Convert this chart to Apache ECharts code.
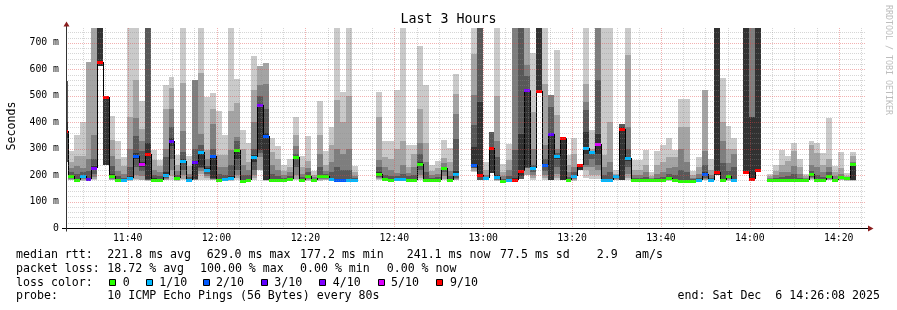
<!DOCTYPE html>
<html><head><meta charset="utf-8">
<script src="https://cdn.jsdelivr.net/npm/echarts@6/dist/echarts.min.js"></script>
<style>html,body{margin:0;padding:0;background:#fff}#c{width:897px;height:310px}</style>
</head><body><div id="c"></div>
<script>
const N = null;
// sorted ping rtts per 80s step (ms), ping1 = fastest ... ping10 = slowest
const ping10 = [557,290,353,400,626,758,758,498,423,328, 270,758,758,480,758,296,258,540,571,275, 758,271,558,758,495,511,443,350,758,565, 372,323,651,611,625,340,309,240,260,419, 271,347,215,479,290,382,758,513,758,233, N,N,N,513,328,328,520,758,315,315, 687,542,240,252,334,304,584,N,N,758, 758,250,361,758,241,317,758,758,758,663, 758,758,502,674,344,275,342,243,758,369, 758,758,758,219,395,758,258,258,294,210, 290,315,340,293,489,489,215,268,523,260, 758,567,387,340,N,758,758,758,N,206, 237,293,274,322,261,206,330,322,284,414, 236,287,208,287];
const ping9 = [557,250,274,272,626,758,758,498,334,262, 233,420,560,375,758,258,233,448,531,240, 548,235,558,586,294,450,275,275,443,473, 300,250,521,611,625,287,260,215,230,350, 230,255,200,350,240,315,485,400,500,210, N,N,N,420,270,260,300,330,230,281, 450,322,215,225,263,250,508,N,N,659, 758,220,361,498,210,256,758,758,758,439, 758,546,502,426,344,240,280,243,546,300, 758,275,400,205,395,653,220,220,240,195, 240,250,270,270,381,380,200,230,523,220, 758,400,300,300,N,758,758,758,N,195, 215,240,254,290,230,195,315,284,240,261, 210,225,198,274];
const ping8 = [557,228,235,228,260,350,758,498,271,215, 205,300,414,330,758,220,210,300,451,215, 366,205,558,357,260,395,230,230,294,344, 240,220,400,540,546,240,220,200,210,309, 205,225,192,280,215,250,300,280,300,195, N,N,N,258,230,220,208,240,208,230, 322,250,200,205,245,215,432,N,N,504, 758,200,361,329,195,220,758,758,615,300, 758,315,502,300,344,210,230,243,476,292, 758,230,250,198,395,382,200,200,210,188, 205,210,227,230,300,250,190,205,290,200, 758,328,246,280,N,758,758,758,N,188, 200,210,210,233,205,188,240,230,210,230, 195,205,192,250];
const ping7 = [557,212,205,212,215,262,758,498,233,195, 190,230,347,290,758,200,195,269,380,200, 287,192,300,313,235,300,205,200,240,330, 200,200,300,500,450,205,198,190,195,280, 192,210,187,230,205,210,230,220,220,188, N,N,N,230,200,195,195,205,195,200, 280,210,190,192,230,195,338,N,N,389, 758,192,361,269,185,195,294,758,574,240, 758,260,458,285,344,192,210,243,447,290, 561,200,210,196,395,300,188,188,192,185, 190,192,205,200,220,210,184,190,240,190, 758,246,215,230,N,758,419,758,N,184, 190,192,195,205,190,185,215,200,192,210, 187,198,190,246];
const ping6 = [400,200,187,200,190,235,758,498,205,186, 184,195,285,250,322,188,186,210,340,192, 262,186,252,292,225,275,185,188,195,298, 182,186,275,470,360,187,186,185,187,272, 186,200,185,202,200,190,185,185,185,184, N,N,N,210,190,186,189,190,186,186, 248,186,185,186,228,184,215,N,N,307, 477,192,304,200,180,184,190,357,525,230, 758,242,359,275,344,186,200,243,363,289, 357,185,185,196,380,270,184,184,184,184, 185,185,192,186,181,181,180,185,210,185, 758,187,200,187,N,758,419,758,N,182, 184,185,186,186,185,184,208,186,185,201, 184,195,189,246];
const ping5 = [340,194,181,192,183,222,612,240,194,181, 181,186,262,232,185,182,181,195,310,185, 245,182,187,231,215,190,180,183,186,260, 177,182,250,294,183,182,182,182,182,262, 182,192,182,192,195,184,180,180,180,181, N,N,N,200,184,182,184,184,182,182, 236,182,182,182,222,180,195,N,N,232, 198,188,208,188,177,180,180,195,231,222, 510,230,181,260,181,182,192,219,280,280, 280,180,179,195,181,255,180,180,180,182, 182,182,185,182,177,177,177,182,200,182, 200,182,192,182,N,205,183,218,N,180, 181,182,182,182,182,182,200,182,182,195, 182,190,186,183];
const ping4 = [250,190,180,188,181,205,612,240,190,180, 180,184,230,215,183,180,180,190,260,183, 220,180,185,225,205,186,179,182,184,220, 177,180,220,285,182,180,180,181,181,230, 180,188,181,188,190,182,179,179,179,180, N,N,N,194,182,180,182,182,180,180, 220,180,181,181,210,179,190,N,N,228, 181,185,208,185,177,179,180,185,228,210, 510,215,181,230,181,180,188,219,240,260, 240,179,178,190,181,230,179,179,179,181, 181,180,183,180,177,177,177,181,190,181, 200,181,188,181,N,205,183,218,N,179, 180,180,180,180,180,181,193,180,180,190, 181,187,184,182];
const ping3 = [250,186,179,184,180,192,612,240,186,179, 179,182,200,195,182,179,179,186,220,181, 200,179,183,215,195,184,178,181,182,200, 176,179,200,270,181,179,179,180,180,200, 179,185,180,185,186,181,178,178,178,179, N,N,N,188,181,179,181,181,179,179, 200,179,180,180,195,178,186,N,N,225, 181,183,208,183,176,178,180,185,225,200, 510,200,181,205,181,179,185,219,230,230, 220,178,178,186,181,205,178,178,178,180, 180,179,181,179,176,176,176,180,186,180, 200,180,185,180,N,205,183,218,N,178, 179,179,179,179,179,180,188,179,179,186, 180,184,182,181];
const ping2 = [250,183,178,181,179,185,612,240,183,178, 178,180,185,183,180,178,178,183,195,180, 186,178,181,205,188,182,178,180,180,188, 176,178,188,219,180,178,178,179,179,185, 178,182,179,182,183,180,178,178,178,178, N,N,N,184,180,178,180,180,178,178, 188,178,179,179,185,178,183,N,N,215, 181,181,208,181,176,178,180,185,200,190, 510,188,181,190,181,178,182,219,219,200, 200,178,177,183,181,190,178,178,178,179, 179,178,180,178,176,176,176,179,183,179, 200,179,182,179,N,205,183,218,N,178, 178,178,178,178,178,179,184,178,178,183, 179,182,180,180];
const ping1 = [250,180,177,179,178,180,612,240,180,177, 177,178,180,180,178,177,177,180,182,178, 180,177,180,182,182,180,177,178,178,181, 175,177,181,219,179,177,177,178,178,180, 177,179,178,179,180,178,177,177,177,177, N,N,N,180,178,177,178,178,177,177, 181,177,178,178,180,177,180,N,N,212, 181,180,208,179,175,177,180,185,200,183, 510,181,181,181,181,177,179,219,190,185, 185,177,177,180,181,181,177,177,177,178, 178,177,178,177,175,175,175,178,180,178, 200,178,179,178,N,205,183,218,N,177, 177,177,177,177,177,178,180,177,177,180, 178,180,178,179];
const median = [365,197,183,196,186,228,629,495,198,183, 182,190,274,241,280,183,183,200,330,188, 255,183,249,287,221,271,181,185,189,294, 178,183,269,465,349,183,183,183,184,267, 183,196,183,196,198,186,181,181,181,182, N,N,N,206,186,183,186,186,183,183, 242,183,183,183,226,181,203,N,N,237, 200,190,304,191,178,181,181,215,521,226, 517,237,357,271,342,183,196,237,303,289, 317,181,180,196,376,266,181,181,181,183, 183,183,188,183,178,178,178,183,206,183, 212,183,196,183,N,212,186,218,N,181, 182,183,183,183,183,183,205,183,183,198, 183,192,188,243];
// lost pings out of 10 per step
const loss = [9,0,0,1,3,4,9,9,0,0, 1,1,2,5,9,0,0,1,3,0, 1,1,3,1,1,2,0,1,1,0, 0,0,1,4,2,0,0,0,0,0, 0,0,0,0,0,1,2,2,1,1, N,N,N,0,0,0,1,1,0,0, 0,0,0,0,0,0,1,N,N,2, 9,1,9,1,0,1,9,9,4,1, 9,2,3,1,9,0,1,9,1,1, 5,1,1,1,9,1,0,0,0,0, 0,0,0,0,0,0,0,1,2,1, 9,0,0,1,N,9,9,9,N,0, 0,0,0,0,0,0,0,0,0,0, 0,0,0,0];

const rangeSec = 10800;        // 11:26:08 .. 14:26:08
const stepSec = 80;
const firstBoundary = 24;      // first step boundary, seconds after start
const xLabelTimes = [832, 2032, 3232, 4432, 5632, 6832, 8032, 9232, 10432];
const xLabelText = ['11:40','12:00','12:20','12:40','13:00','13:20','13:40','14:00','14:20'];
const yMax = 756;

const lossLegend = ['0','1/10','2/10','3/10','4/10','5/10','9/10'];
const lossLegendColors = ['#26ff00','#00b8ff','#0059ff','#5e00ff','#7e00ff','#dd00ff','#ff0000'];
function lossColor(l){ return l >= 6 ? '#ff0000' : lossLegendColors[l]; }

const shades = ['#cacaca','#a4a4a4','#7e7e7e','#585858','#323232'];
const pings = [ping1,ping2,ping3,ping4,ping5,ping6,ping7,ping8,ping9,ping10];
const FONT = '"DejaVu Sans Mono", monospace';

const colData = median.map((_, i) => [i, 0]);

function colRange(i, api){
  const t0 = firstBoundary + (i - 1) * stepSec, t1 = t0 + stepSec;
  const a = api.coord([Math.max(t0, 0), 0]);
  const b = api.coord([Math.min(t1, rangeSec), 0]);
  return [Math.round(a[0]), Math.round(b[0])];
}
function yPix(api, v){ return Math.round(api.coord([0, v])[1]); }

// grid lines (every 5 min / every 20 ms, major every 20 min / 100 ms)
const gridData = [];
for (let t = 232; t < rangeSec; t += 300) gridData.push([xLabelTimes.indexOf(t) >= 0 ? 1 : 0, t]);
for (let v = 20; v < yMax; v += 20) gridData.push([v % 100 === 0 ? 3 : 2, v]);

const chart = echarts.init(document.getElementById('c'), null, {renderer: 'canvas'});
const textBase = {font: '11.6px ' + FONT, fill: '#000', textVerticalAlign: 'middle'};
const graphics = [
  {type:'text', x:448.5, y:20, style:{text:'Last 3 Hours', font:'13.3px ' + FONT, fill:'#000', textAlign:'center', textVerticalAlign:'middle'}},
  {type:'text', x:12, y:126, rotation:Math.PI/2, style:{text:'Seconds', font:'11.6px ' + FONT, fill:'#000', textAlign:'center', textVerticalAlign:'middle'}},
  {type:'text', x:888, y:5, rotation:-Math.PI/2, style:{text:'RRDTOOL / TOBI OETIKER', font:'8.3px ' + FONT, fill:'#bdbdbd', textAlign:'left', textVerticalAlign:'middle'}},
  {type:'line', shape:{x1:62, y1:228.5, x2:868, y2:228.5}, style:{stroke:'#000', lineWidth:1}, z:50},
  {type:'line', shape:{x1:66.5, y1:231.5, x2:66.5, y2:25}, style:{stroke:'#333', lineWidth:1}, z:50},
  {type:'polygon', shape:{points:[[63.5,26.5],[69.5,26.5],[66.5,21.5]]}, style:{fill:'#8b1e1e'}, z:51},
  {type:'polygon', shape:{points:[[868,225.5],[868,231.5],[873.5,228.5]]}, style:{fill:'#8b1e1e'}, z:51}
];
const rows = [
  [255, [[16,'median rtt:'],[107.3,'221.8 ms avg'],[206.7,'629.0 ms max'],[300,'177.2 ms min'],[406.7,'241.1 ms now'],[500,'77.5 ms sd'],[596.7,'2.9'],[635,'am/s']]],
  [268.5, [[16,'packet loss:'],[107.3,'18.72 % avg'],[200,'100.00 % max'],[300,'0.00 % min'],[386.7,'0.00 % now']]],
  [282.5, [[16,'loss color:']]],
  [296, [[16,'probe:'],[107.3,'10 ICMP Echo Pings (56 Bytes) every 80s']]]
];
rows.forEach(([y, segs]) => segs.forEach(([x, t]) => graphics.push({type:'text', x, y, style:Object.assign({text:t}, textBase)})));
const sqX = [109.3, 146, 202.7, 261, 319.3, 377.7, 436];
const sqTextX = [122.7, 159.3, 216, 274.3, 332.7, 391, 450];
lossLegend.forEach((lab, k) => {
  graphics.push({type:'rect', shape:{x:Math.round(sqX[k]) + 0.5, y:279.5, width:6, height:6}, style:{fill:lossLegendColors[k], stroke:'#000', lineWidth:1}});
  graphics.push({type:'text', x:sqTextX[k], y:282.5, style:Object.assign({text:lab}, textBase)});
});
graphics.push({type:'text', x:880, y:296, style:Object.assign({text:'end: Sat Dec  6 14:26:08 2025', textAlign:'right'}, textBase)});

chart.setOption({
  animation: false,
  backgroundColor: '#fff',
  grid: {left: 66, top: 28, width: 800, height: 200},
  xAxis: {
    type: 'value', min: 0, max: rangeSec,
    axisLine: {show: false}, axisTick: {show: false}, splitLine: {show: false},
    axisLabel: {customValues: xLabelTimes, formatter: v => xLabelText[xLabelTimes.indexOf(v)] || '',
      fontFamily: FONT, fontSize: 9.8, color: '#000', margin: 5}
  },
  yAxis: {
    type: 'value', min: 0, max: yMax, interval: 100,
    axisLine: {show: false}, axisTick: {show: false}, splitLine: {show: false},
    axisLabel: {showMaxLabel: false, formatter: v => (v % 100 !== 0 ? '' : (v === 0 ? '0' : v + ' m')),
      fontFamily: FONT, fontSize: 9.8, color: '#000', margin: 7}
  },
  graphic: {elements: graphics},
  series: [
    {
      type: 'custom', name: 'smoke', data: colData, clip: true, z: 1, silent: true,
      renderItem(params, api){
        const i = api.value(0);
        if (ping10[i] == null) return null;
        const [x0, x1] = colRange(i, api);
        const children = [];
        for (let k = 0; k < 5; k++){
          const lo = pings[k][i], hi = pings[9 - k][i];
          if (hi <= lo) continue;
          const yt = yPix(api, hi), yb = yPix(api, lo);
          children.push({type:'rect', shape:{x:x0, y:yt, width:x1 - x0, height:Math.max(1, yb - yt)}, style:{fill:shades[k]}});
        }
        return {type:'group', children};
      }
    },
    {
      type: 'custom', name: 'median', data: colData, clip: true, z: 3, silent: true,
      renderItem(params, api){
        const i = api.value(0);
        if (median[i] == null) return null;
        const [x0, x1] = colRange(i, api);
        const y = yPix(api, median[i]);
        const ch = [];
        const prev = i > 0 ? median[i - 1] : null;
        if (prev != null){
          const yp = yPix(api, prev);
          ch.push({type:'line', shape:{x1:x0 + 0.5, y1:yp, x2:x0 + 0.5, y2:y}, style:{stroke:'#000', lineWidth:1}});
        }
        ch.push({type:'line', shape:{x1:x0, y1:y + 0.5, x2:x1, y2:y + 0.5}, style:{stroke:'#000', lineWidth:1}});
        ch.push({type:'rect', shape:{x:x0, y:y - 1, width:x1 - x0, height:3}, style:{fill:lossColor(loss[i])}});
        return {type:'group', children: ch};
      }
    },
    {
      type: 'custom', name: 'grid', data: gridData, clip: true, z: 5, silent: true,
      renderItem(params, api){
        const kind = api.value(0), v = api.value(1);
        const cs = params.coordSys;
        const major = kind === 1 || kind === 3;
        const stroke = major ? 'rgba(225,70,70,0.42)' : 'rgba(140,140,140,0.36)';
        let shape;
        if (kind <= 1){
          const x = Math.round(api.coord([v, 0])[0]) + 0.5;
          shape = {x1:x, y1:cs.y, x2:x, y2:cs.y + cs.height};
        } else {
          const y = Math.round(api.coord([0, v])[1]) + 0.5;
          shape = {x1:cs.x, y1:y, x2:cs.x + cs.width + 2, y2:y};
        }
        return {type:'line', shape, style:{stroke, lineWidth:1, lineDash:[1,1]}};
      }
    }
  ]
});
</script>
</body></html>
